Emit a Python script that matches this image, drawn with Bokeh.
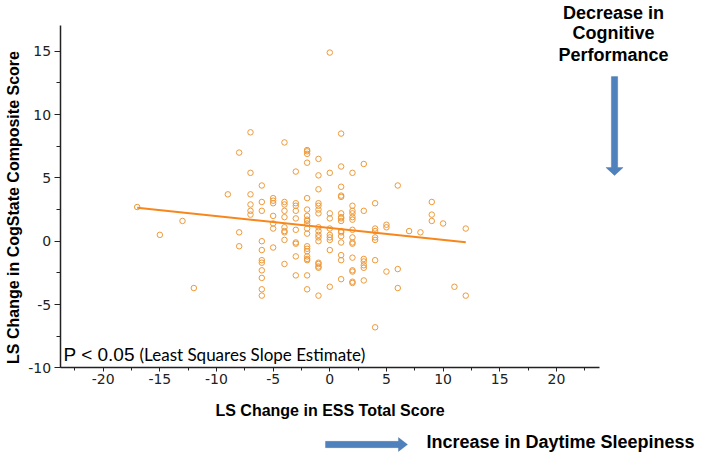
import math
from bokeh.plotting import figure
from bokeh.models import (Label, PolyAnnotation, Range1d, SingleIntervalTicker,
                          ColumnDataSource, PrintfTickFormatter)
from bokeh.embed import file_html
from bokeh.resources import INLINE

# ---- data ----
ess_change = [
    -17, -15, -13, -12, -9,
    -8, -8, -8,
    -7, -7, -7, -7, -7, -7,
    -6, -6, -6, -6, -6, -6, -6, -6, -6, -6, -6,
    -5, -5, -5, -5, -5, -5, -5,
    -4, -4, -4, -4, -4, -4, -4, -4, -4, -4,
    -3, -3, -3, -3, -3, -3, -3, -3, -3, -3,
    -2, -2, -2, -2, -2, -2, -2, -2, -2, -2, -2, -2, -2, -2, -2, -2, -2, -2, -2, -2,
    -1, -1, -1, -1, -1, -1, -1, -1, -1, -1, -1, -1, -1, -1, -1, -1, -1,
    0, 0, 0, 0, 0, 0, 0, 0, 0, 0,
    1, 1, 1, 1, 1, 1, 1, 1, 1, 1, 1, 1, 1, 1, 1, 1,
    2, 2, 2, 2, 2, 2, 2, 2, 2, 2, 2, 2, 2, 2, 2,
    3, 3, 3, 3, 3, 3, 3,
    4, 4, 4, 4, 4, 4, 4,
    5, 5, 5,
    6, 6, 6,
    7, 8,
    9, 9, 9,
    10, 11,
    12, 12,
]
cog_change = [
    2.7, 0.5, 1.6, -3.7, 3.7,
    7.0, 0.7, -0.4,
    8.6, 5.4, 3.7, 2.9, 2.4, 2.1,
    4.4, 3.1, 2.4, 0.0, -0.7, -1.5, -1.7, -2.3, -2.9, -3.8, -4.3,
    3.4, 3.2, 3.0, 2.0, 1.4, 1.0, -0.5,
    7.8, 3.1, 2.9, 2.4, 1.9, 1.1, 0.8, 0.7, 0.1, -1.8,
    5.5, 3.0, 2.8, 2.4, 1.8, 0.9, -0.1, -0.2, -1.2, -2.7,
    7.2, 7.1, 6.9, 6.2, 3.4, 2.5, 2.0, 1.7, 1.6, 1.4, 1.0, 0.6, -0.4, -0.6, -0.8, -1.2, -1.4, -1.5, -2.7, -3.8,
    6.5, 5.2, 4.1, 3.0, 2.8, 2.5, 2.2, 1.1, 0.8, 0.5, 0.3, 0.0, -1.7, -1.8, -2.0, -2.1, -4.3,
    14.9, 5.4, 2.2, 1.8, 1.0, 0.5, 0.3, 0.1, -0.7, -3.6,
    8.5, 5.9, 4.3, 3.6, 3.5, 2.2, 1.9, 1.8, 1.6, 0.8, 0.7, 0.4, -0.1, -1.1, -1.5, -3.0,
    5.4, 2.8, 2.4, 2.2, 1.9, 1.7, 0.9, 0.3, -0.1, -0.2, -1.3, -2.3, -2.4, -3.2, -3.3,
    6.1, 2.4, -1.4, -1.6, -1.9, -2.1, -3.1,
    3.0, 1.0, 0.8, 0.3, 0.1, -1.5, -6.8,
    1.3, 1.1, -2.4,
    4.4, -2.2, -3.7,
    0.8, 0.7,
    3.1, 2.1, 1.6,
    1.4, -3.6,
    1.0, -4.3,
]
fit_intercept = 1.04
fit_slope = -0.094

x_axis_bounds = (-23.8, 23.8)
y_axis_bounds = (-10, 17.07)

x_title = "LS Change in ESS Total Score"
y_title = "LS Change in CogState Composite Score"
p_text = "P < 0.05"
p_note = "(Least Squares Slope Estimate)"
right_note = ["Decrease in", "Cognitive", "Performance"]
bottom_note = "Increase in Daytime Sleepiness"

# ---- figure: frame covers the whole canvas, axes are pinned inside it ----
W, H = 704, 454
X0_PX, X_PPU = 329.3, 11.33   # pixel of x=0, pixels per unit
Y0_PX, Y_PPU = 240.7, 12.66   # pixel of y=0, pixels per unit

p = figure(width=W, height=H, title=None,
           x_range=Range1d(-X0_PX / X_PPU, (W - X0_PX) / X_PPU),
           y_range=Range1d((Y0_PX - H) / Y_PPU, Y0_PX / Y_PPU),
           output_backend="svg", toolbar_location=None,
           min_border=0, min_border_left=0, min_border_right=0,
           min_border_top=0, min_border_bottom=0)
p.outline_line_color = None
p.xgrid.visible = False
p.ygrid.visible = False
p.background_fill_color = "white"
p.border_fill_color = "white"

xa, ya = p.xaxis[0], p.yaxis[0]
xa.fixed_location = y_axis_bounds[0]
ya.fixed_location = x_axis_bounds[0]
xa.bounds = x_axis_bounds
ya.bounds = y_axis_bounds

for ax in (xa, ya):
    ax.ticker = SingleIntervalTicker(interval=5, num_minor_ticks=2)
    ax.formatter = PrintfTickFormatter(format="%d")
    ax.axis_line_color = "#222222"
    ax.axis_line_width = 1.5
    ax.major_tick_line_color = "#222222"
    ax.minor_tick_line_color = "#222222"
    ax.major_tick_in = 0
    ax.minor_tick_in = 0
    ax.major_label_text_font = "DejaVu Sans"
    ax.major_label_text_font_size = "14px"
    ax.major_label_text_color = "#222222"
    ax.axis_label_text_font = "Liberation Sans"
    ax.axis_label_text_font_size = "16px"
    ax.axis_label_text_font_style = "bold"
    ax.axis_label_text_color = "black"

xa.major_tick_out = 4
xa.minor_tick_out = 3
xa.major_label_standoff = 2
xa.axis_label = x_title
xa.axis_label_standoff = 15

ya.major_tick_out = 6
ya.minor_tick_out = 4
ya.major_label_standoff = 3

# y-axis title, placed where the reference has it (slightly below the axis centre)
p.add_layout(Label(x=-27.96, y=2.66, text=y_title, angle=math.pi / 2,
                   text_font="Liberation Sans", text_font_size="16px",
                   text_font_style="bold", text_color="black",
                   text_align="center", text_baseline="middle"))

src = ColumnDataSource(dict(x=ess_change, y=cog_change))
p.scatter("x", "y", source=src, marker="circle", size=5.5,
          fill_color=None, line_color="#EE9A3A", line_width=1)

fx = [min(ess_change), max(ess_change)]
fy = [fit_intercept + fit_slope * v for v in fx]
p.line(fx, fy, line_color="#F7871C", line_width=2)

# ---- annotations ----
p.add_layout(Label(x=-23.5, y=-8.95, text=p_text, text_font="Liberation Sans",
                   text_font_size="19px", text_color="black", text_baseline="alphabetic"))
p.add_layout(Label(x=-16.79, y=-8.95, text=p_note, text_font="Lato",
                   text_font_size="17px", text_color="black", text_baseline="alphabetic"))

for line, yy in zip(right_note, [18.06, 16.41, 14.67]):
    p.add_layout(Label(x=25.04, y=yy, text=line, text_font="Liberation Sans",
                       text_font_size="18px", text_font_style="bold", text_color="black",
                       text_align="center", text_baseline="middle"))

p.add_layout(Label(x=8.53, y=-15.9, text=bottom_note, text_font="Liberation Sans",
                   text_font_size="18px", text_font_style="bold", text_color="black",
                   text_align="left", text_baseline="middle"))

# down arrow (right side)
cx, top, neck, tip, hw, hh = 25.13, 13.0, 5.82, 5.19, 0.28, 0.76
p.add_layout(PolyAnnotation(xs=[cx - hw, cx + hw, cx + hw, cx + hh, cx, cx - hh, cx - hw],
                            ys=[top, top, neck, neck, tip, neck, neck],
                            fill_color="#4F81BD", fill_alpha=1.0,
                            line_color="#3A6595", line_width=1))
# right arrow (bottom)
cy, x0, xn, xt, vw, vh = -16.06, -0.38, 6.06, 6.86, 0.25, 0.55
p.add_layout(PolyAnnotation(xs=[x0, xn, xn, xt, xn, xn, x0],
                            ys=[cy + vw, cy + vw, cy + vh, cy, cy - vh, cy - vw, cy - vw],
                            fill_color="#4F81BD", fill_alpha=1.0,
                            line_color="#3A6595", line_width=1))

open("out.html", "w").write(file_html(p, INLINE))
